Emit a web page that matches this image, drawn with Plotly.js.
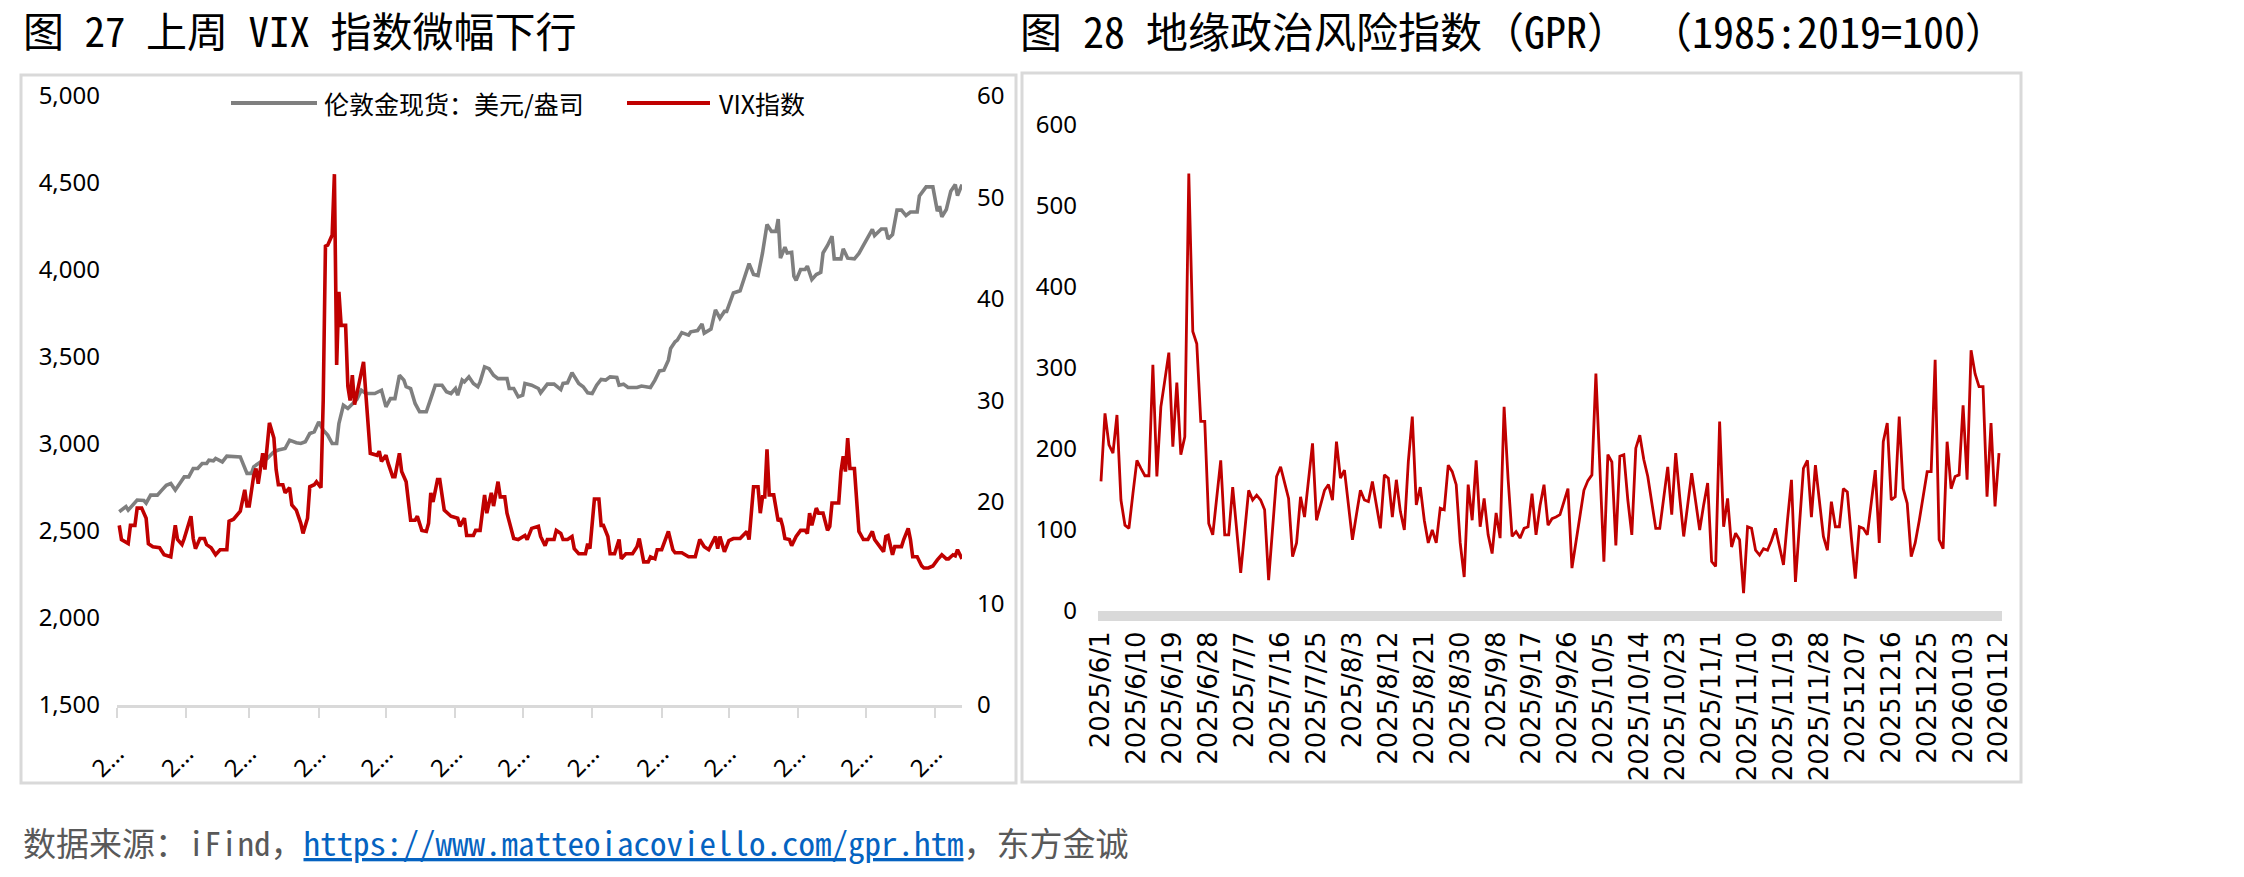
<!DOCTYPE html>
<html>
<head>
<meta charset="utf-8">
<script src="https://cdn.plot.ly/plotly-3.0.1.min.js"></script>
<style>
html,body{margin:0;padding:0;background:#fff;}
#chart{width:2244px;height:877px;}
</style>
</head>
<body>
<div id="chart"></div>
<script>
// ---------- Figure 27: London gold spot (USD/oz) and VIX ----------
const goldDates = ['2025-01-02','2025-01-05','2025-01-06','2025-01-10','2025-01-13','2025-01-14','2025-01-16','2025-01-19','2025-01-21','2025-01-23','2025-01-25','2025-01-27','2025-01-29','2025-01-31','2025-02-02','2025-02-04','2025-02-06','2025-02-08','2025-02-10','2025-02-11','2025-02-13','2025-02-14','2025-02-17','2025-02-19','2025-02-25','2025-02-28','2025-03-02','2025-03-03','2025-03-06','2025-03-09','2025-03-12','2025-03-14','2025-03-17','2025-03-19','2025-03-22','2025-03-24','2025-03-26','2025-03-28','2025-03-30','2025-04-01','2025-04-03','2025-04-05','2025-04-07','2025-04-09','2025-04-10','2025-04-12','2025-04-14','2025-04-16','2025-04-18','2025-04-20','2025-04-22','2025-04-26','2025-04-29','2025-05-01','2025-05-03','2025-05-05','2025-05-07','2025-05-09','2025-05-10','2025-05-12','2025-05-14','2025-05-16','2025-05-19','2025-05-21','2025-05-23','2025-05-26','2025-05-28','2025-05-30','2025-06-01','2025-06-02','2025-06-04','2025-06-05','2025-06-07','2025-06-09','2025-06-11','2025-06-12','2025-06-14','2025-06-16','2025-06-18','2025-06-20','2025-06-24','2025-06-25','2025-06-27','2025-06-29','2025-07-01','2025-07-02','2025-07-05','2025-07-08','2025-07-09','2025-07-12','2025-07-15','2025-07-18','2025-07-19','2025-07-21','2025-07-23','2025-07-26','2025-07-28','2025-07-30','2025-08-01','2025-08-03','2025-08-05','2025-08-07','2025-08-09','2025-08-12','2025-08-13','2025-08-15','2025-08-17','2025-08-21','2025-08-23','2025-08-27','2025-08-29','2025-08-31','2025-09-02','2025-09-04','2025-09-05','2025-09-07','2025-09-08','2025-09-10','2025-09-13','2025-09-14','2025-09-17','2025-09-19','2025-09-20','2025-09-23','2025-09-25','2025-09-27','2025-09-29','2025-09-30','2025-10-02','2025-10-03','2025-10-06','2025-10-08','2025-10-10','2025-10-12','2025-10-14','2025-10-16','2025-10-18','2025-10-20','2025-10-22','2025-10-23','2025-10-24','2025-10-26','2025-10-27','2025-10-29','2025-10-30','2025-10-31','2025-11-02','2025-11-04','2025-11-05','2025-11-07','2025-11-09','2025-11-11','2025-11-12','2025-11-14','2025-11-16','2025-11-17','2025-11-20','2025-11-21','2025-11-23','2025-11-26','2025-11-28','2025-11-30','2025-12-02','2025-12-04','2025-12-05','2025-12-08','2025-12-10','2025-12-11','2025-12-13','2025-12-15','2025-12-17','2025-12-19','2025-12-21','2025-12-24','2025-12-25','2025-12-28','2025-12-31','2026-01-02','2026-01-03','2026-01-04','2026-01-06','2026-01-08','2026-01-10','2026-01-11','2026-01-13'];
const goldValues = [2611,2640,2620,2678,2675,2660,2706,2706,2735,2763,2773,2735,2773,2811,2811,2859,2859,2888,2888,2907,2903,2917,2897,2930,2926,2831,2831,2869,2897,2917,2955,2965,2974,3022,3007,3003,3013,3060,3070,3127,3080,3051,3003,3003,3118,3223,3204,3233,3256,3309,3290,3290,3309,3214,3261,3261,3395,3367,3329,3319,3233,3185,3185,3261,3338,3338,3300,3290,3319,3281,3367,3357,3386,3348,3329,3357,3443,3433,3395,3376,3376,3319,3319,3271,3281,3348,3338,3319,3294,3344,3344,3313,3348,3352,3410,3348,3329,3294,3290,3338,3371,3367,3386,3382,3338,3344,3325,3325,3333,3325,3367,3420,3424,3482,3549,3587,3597,3640,3626,3645,3652,3690,3637,3660,3771,3723,3762,3762,3829,3868,3881,3954,4037,3974,3968,4098,4261,4222,4222,4293,4068,4131,4098,4102,3964,3941,4003,4003,4022,3945,3974,3987,4098,4141,4194,4064,4064,4122,4068,4064,4095,4141,4185,4233,4198,4236,4236,4179,4204,4344,4344,4313,4333,4333,4425,4478,4478,4338,4367,4306,4348,4453,4491,4428,4491];

const vixDates = ['2025-01-02','2025-01-03','2025-01-06','2025-01-07','2025-01-09','2025-01-10','2025-01-12','2025-01-14','2025-01-15','2025-01-17','2025-01-20','2025-01-22','2025-01-25','2025-01-27','2025-01-28','2025-01-30','2025-01-31','2025-02-03','2025-02-04','2025-02-05','2025-02-07','2025-02-09','2025-02-10','2025-02-12','2025-02-14','2025-02-16','2025-02-19','2025-02-20','2025-02-22','2025-02-24','2025-02-25','2025-02-27','2025-02-28','2025-03-01','2025-03-03','2025-03-04','2025-03-05','2025-03-07','2025-03-08','2025-03-10','2025-03-12','2025-03-13','2025-03-14','2025-03-16','2025-03-17','2025-03-19','2025-03-20','2025-03-22','2025-03-24','2025-03-25','2025-03-27','2025-03-28','2025-03-30','2025-03-31','2025-04-02','2025-04-03','2025-04-04','2025-04-05','2025-04-07','2025-04-08','2025-04-09','2025-04-10','2025-04-11','2025-04-13','2025-04-14','2025-04-15','2025-04-16','2025-04-17','2025-04-21','2025-04-22','2025-04-23','2025-04-24','2025-04-27','2025-04-28','2025-04-29','2025-05-01','2025-05-02','2025-05-04','2025-05-05','2025-05-07','2025-05-08','2025-05-10','2025-05-12','2025-05-14','2025-05-15','2025-05-17','2025-05-19','2025-05-20','2025-05-21','2025-05-22','2025-05-24','2025-05-25','2025-05-27','2025-05-28','2025-05-30','2025-06-02','2025-06-03','2025-06-05','2025-06-06','2025-06-09','2025-06-10','2025-06-12','2025-06-14','2025-06-15','2025-06-17','2025-06-18','2025-06-20','2025-06-21','2025-06-23','2025-06-24','2025-06-26','2025-06-27','2025-06-29','2025-07-01','2025-07-02','2025-07-03','2025-07-05','2025-07-08','2025-07-09','2025-07-11','2025-07-12','2025-07-15','2025-07-16','2025-07-18','2025-07-19','2025-07-21','2025-07-23','2025-07-24','2025-07-26','2025-07-29','2025-07-30','2025-07-31','2025-08-02','2025-08-04','2025-08-05','2025-08-06','2025-08-08','2025-08-09','2025-08-11','2025-08-13','2025-08-14','2025-08-16','2025-08-19','2025-08-21','2025-08-22','2025-08-24','2025-08-26','2025-08-27','2025-08-29','2025-08-30','2025-09-01','2025-09-04','2025-09-06','2025-09-07','2025-09-10','2025-09-13','2025-09-16','2025-09-18','2025-09-20','2025-09-22','2025-09-25','2025-09-26','2025-09-27','2025-09-29','2025-10-01','2025-10-03','2025-10-06','2025-10-09','2025-10-10','2025-10-12','2025-10-14','2025-10-15','2025-10-16','2025-10-17','2025-10-18','2025-10-19','2025-10-21','2025-10-23','2025-10-24','2025-10-25','2025-10-26','2025-10-28','2025-10-29','2025-10-31','2025-11-02','2025-11-04','2025-11-05','2025-11-06','2025-11-07','2025-11-09','2025-11-10','2025-11-12','2025-11-14','2025-11-15','2025-11-16','2025-11-19','2025-11-20','2025-11-21','2025-11-22','2025-11-23','2025-11-24','2025-11-26','2025-11-27','2025-11-28','2025-11-30','2025-12-02','2025-12-04','2025-12-05','2025-12-08','2025-12-09','2025-12-10','2025-12-11','2025-12-13','2025-12-14','2025-12-17','2025-12-18','2025-12-20','2025-12-21','2025-12-22','2025-12-24','2025-12-26','2025-12-27','2025-12-29','2025-12-31','2026-01-02','2026-01-04','2026-01-06','2026-01-07','2026-01-09','2026-01-10','2026-01-11','2026-01-13'];
const vixValues = [17.7,16.3,15.9,17.7,17.7,19.4,19.4,18.4,15.9,15.6,15.5,14.8,14.6,17.7,16.3,15.8,16.4,18.6,16.4,15.4,16.4,16.4,15.8,15.5,14.8,15.3,15.3,18.1,18.3,18.9,19.1,21.2,19.6,19.6,22.6,23.3,21.8,24.8,23.2,27.8,26.3,23.2,21.7,21.7,20.9,21.4,19.7,19.2,17.9,16.9,18.4,21.5,21.7,22.0,21.4,30.0,45.2,45.3,46.3,52.3,33.5,40.7,37.4,37.4,31.4,30.0,32.5,29.6,33.8,30.7,27.4,24.8,24.6,25.0,24.0,24.6,23.8,22.5,22.5,24.8,23.0,22.0,18.2,18.2,18.6,17.2,17.1,17.9,20.9,20.0,22.2,22.2,19.2,19.0,18.6,18.4,17.6,18.4,16.7,16.7,17.2,17.2,20.7,18.9,20.9,19.6,22.0,20.5,20.5,18.9,17.2,16.4,16.3,16.6,16.7,16.3,17.4,17.6,16.6,15.7,16.3,16.3,17.2,16.9,16.3,16.3,16.6,15.4,14.9,14.9,15.9,15.4,20.3,20.3,17.7,17.7,16.6,14.9,14.9,16.3,14.4,14.9,14.9,15.6,16.4,14.1,14.1,14.6,14.4,15.3,15.3,17.1,15.3,15.0,15.0,14.6,14.6,16.3,15.6,15.3,16.6,15.4,16.6,15.1,16.2,16.4,16.4,17.1,16.3,21.5,21.5,18.9,20.5,20.5,25.2,20.7,20.7,18.1,18.4,17.6,16.4,16.3,15.7,16.6,17.2,17.2,16.9,18.9,17.7,19.4,18.9,18.9,17.2,17.6,19.9,19.9,23.0,24.5,23.0,26.3,23.3,23.3,19.9,17.1,16.3,16.3,17.1,16.3,15.4,15.1,16.6,16.7,14.8,15.6,15.6,16.3,17.4,16.3,14.6,14.6,13.7,13.5,13.5,13.7,14.3,14.8,14.4,14.4,14.8,14.7,15.3,14.4];

const vixTickVals = ['2025-01-01','2025-02-01','2025-03-01','2025-04-01','2025-05-01','2025-06-01','2025-07-01','2025-08-01','2025-09-01','2025-10-01','2025-11-01','2025-12-01','2026-01-01'];
const vixTickText = ['2…','2…','2…','2…','2…','2…','2…','2…','2…','2…','2…','2…','2…'];

// ---------- Figure 28: Geopolitical risk index (daily, 2025/6/1 - 2026/01/12) ----------
const gprValues = [
160,244,205,195,242,137,106,102,145,186,
176,167,167,304,166,252,285,319,203,282,
193,215,540,345,330,234,234,108,94,141,
186,94,94,153,100,47,98,149,137,143,
137,125,38,104,166,178,158,139,67,84,
141,116,162,207,112,129,149,156,137,209,
164,174,131,88,119,149,137,135,160,131,
102,168,164,116,162,123,100,184,240,131,
153,112,84,100,84,127,125,180,172,156,
84,42,156,112,186,104,139,94,71,121,
90,252,163,92,98,90,102,104,145,94,
130,156,106,114,116,119,135,151,53,85,
118,149,161,168,293,172,61,193,184,81,
191,193,137,94,201,217,187,166,132,102,
102,140,178,119,195,141,92,131,170,135,
100,131,158,61,55,234,104,139,79,96,
88,22,104,102,75,69,77,75,87,102,
79,57,112,162,36,100,176,186,116,180,
134,92,75,135,104,104,151,147,91,40,
104,102,94,134,174,84,209,232,137,141,
240,151,133,67,84,111,141,172,172,310,
88,77,209,151,166,168,254,162,322,293,
277,277,141,232,129,195];
const gprTickLabels = ['2025/6/1','2025/6/10','2025/6/19','2025/6/28','2025/7/7','2025/7/16','2025/7/25','2025/8/3','2025/8/12','2025/8/21','2025/8/30','2025/9/8','2025/9/17','2025/9/26','2025/10/5','2025/10/14','2025/10/23','2025/11/1','2025/11/10','2025/11/19','2025/11/28','20251207','20251216','20251225','20260103','20260112'];

// daily category labels in the source's own formats
const gprDates = [];
(function(){
  const d = new Date(Date.UTC(2025, 5, 1));
  for (let i = 0; i < gprValues.length; i++) {
    const y = d.getUTCFullYear(), m = d.getUTCMonth() + 1, dd = d.getUTCDate();
    if (y === 2025 && m < 12) gprDates.push(y + '/' + m + '/' + dd);
    else gprDates.push('' + y + String(m).padStart(2,'0') + String(dd).padStart(2,'0'));
    d.setUTCDate(d.getUTCDate() + 1);
  }
})();

// ---------- layout helpers (page pixels -> paper fractions) ----------
const W = 2244, H = 877;
const px = x => x / W;
const py = y => 1 - y / H;

const numFont = 'Noto Sans, Noto Sans CJK SC, sans-serif';
const titleFont = "'Noto Sans Mono CJK SC', 'Noto Sans CJK SC', 'DejaVu Sans Mono', monospace";

const traces = [
  {x: goldDates, y: goldValues, type: 'scatter', mode: 'lines', name: '伦敦金现货：美元/盎司',
   line: {color: '#7F7F7F', width: 3.6}, xaxis: 'x', yaxis: 'y', hoverinfo: 'skip'},
  {x: vixDates, y: vixValues, type: 'scatter', mode: 'lines', name: 'VIX指数',
   line: {color: '#C00000', width: 3.6}, xaxis: 'x', yaxis: 'y2', hoverinfo: 'skip'},
  {x: gprDates, y: gprValues, type: 'scatter', mode: 'lines', name: 'GPR',
   line: {color: '#C00000', width: 2.8}, xaxis: 'x2', yaxis: 'y3', hoverinfo: 'skip'}
];

const layout = {
  width: W, height: H,
  margin: {l: 0, r: 0, t: 0, b: 0},
  paper_bgcolor: '#ffffff', plot_bgcolor: 'rgba(0,0,0,0)',
  showlegend: false,
  font: {family: numFont, color: '#000000', size: 24},
  xaxis: {
    domain: [px(117), px(962)], anchor: 'y', type: 'date',
    range: ['2025-01-01', '2026-01-13'],
    tickmode: 'array', tickvals: vixTickVals, ticktext: vixTickText, tickangle: -45,
    ticks: 'outside', ticklen: 10, tickwidth: 2, tickcolor: '#D9D9D9',
    showline: true, linecolor: '#D9D9D9', linewidth: 3,
    showgrid: false, zeroline: false, ticklabelstandoff: 12,
    tickfont: {family: numFont, size: 24, color: '#000'}
  },
  yaxis: {
    domain: [py(705), py(96)], anchor: 'x', range: [1500, 5000], dtick: 500,
    tickformat: ',d', showgrid: false, zeroline: false, showline: false, ticks: '',
    ticklabelstandoff: 16, tickfont: {family: numFont, size: 24, color: '#000'}
  },
  yaxis2: {
    overlaying: 'y', side: 'right', anchor: 'x', range: [0, 60], dtick: 10,
    showgrid: false, zeroline: false, showline: false, ticks: '',
    ticklabelstandoff: 14, tickfont: {family: numFont, size: 24, color: '#000'}
  },
  xaxis2: {
    domain: [px(1098), px(2002)], anchor: 'y3', type: 'category',
    range: [-0.75, gprValues.length - 0.25],
    tickmode: 'array', tickvals: gprTickLabels, ticktext: gprTickLabels, tickangle: -90,
    ticks: '', showline: true, linecolor: '#D9D9D9', linewidth: 10,
    showgrid: false, zeroline: false, ticklabelstandoff: 0,
    tickfont: {family: 'DejaVu Sans, Liberation Sans, sans-serif', size: 26, color: '#000'}
  },
  yaxis3: {
    domain: [py(611), py(125)], anchor: 'x2', range: [0, 600], dtick: 100,
    showgrid: false, zeroline: false, showline: false, ticks: '',
    ticklabelstandoff: 20, tickfont: {family: numFont, size: 24, color: '#000'}
  },
  shapes: [
    {type: 'rect', xref: 'paper', yref: 'paper', x0: px(21), x1: px(1016), y0: py(783), y1: py(75),
     line: {color: '#D9D9D9', width: 3}, fillcolor: 'rgba(0,0,0,0)', layer: 'below'},
    {type: 'rect', xref: 'paper', yref: 'paper', x0: px(1022), x1: px(2021), y0: py(782), y1: py(73),
     line: {color: '#D9D9D9', width: 3}, fillcolor: 'rgba(0,0,0,0)', layer: 'below'},
    // legend line samples
    {type: 'line', xref: 'paper', yref: 'paper', x0: px(231), x1: px(317), y0: py(103), y1: py(103),
     line: {color: '#7F7F7F', width: 4}},
    {type: 'line', xref: 'paper', yref: 'paper', x0: px(627), x1: px(710), y0: py(103), y1: py(103),
     line: {color: '#C00000', width: 4}}
  ],
  annotations: [
    {xref: 'paper', yref: 'paper', x: px(21), y: py(29), xanchor: 'left', yanchor: 'middle', showarrow: false,
     text: '图 27 上周 VIX 指数微幅下行', font: {family: titleFont, size: 41, color: '#000'}},
    {xref: 'paper', yref: 'paper', x: px(1018), y: py(29), xanchor: 'left', yanchor: 'middle', showarrow: false,
     text: '图 28 地缘政治风险指数（GPR） （1985:2019=100）', font: {family: titleFont, size: 42, color: '#000'}},
    {xref: 'paper', yref: 'paper', x: px(322), y: py(103), xanchor: 'left', yanchor: 'middle', showarrow: false,
     text: '伦敦金现货：美元/盎司', font: {family: 'Noto Sans CJK SC, sans-serif', size: 25, color: '#000'}},
    {xref: 'paper', yref: 'paper', x: px(717), y: py(103), xanchor: 'left', yanchor: 'middle', showarrow: false,
     text: 'VIX指数', font: {family: 'Noto Sans CJK SC, sans-serif', size: 25, color: '#000'}},
    {xref: 'paper', yref: 'paper', x: px(21), y: py(842), xanchor: 'left', yanchor: 'middle', showarrow: false,
     text: '数据来源：iFind，<span style="color:#0563C1;text-decoration:underline">https://www.matteoiacoviello.com/gpr.htm</span>，东方金诚',
     font: {family: titleFont, size: 33, color: '#595959'}}
  ]
};

Plotly.newPlot('chart', traces, layout, {staticPlot: true, displayModeBar: false});
</script>
</body>
</html>
